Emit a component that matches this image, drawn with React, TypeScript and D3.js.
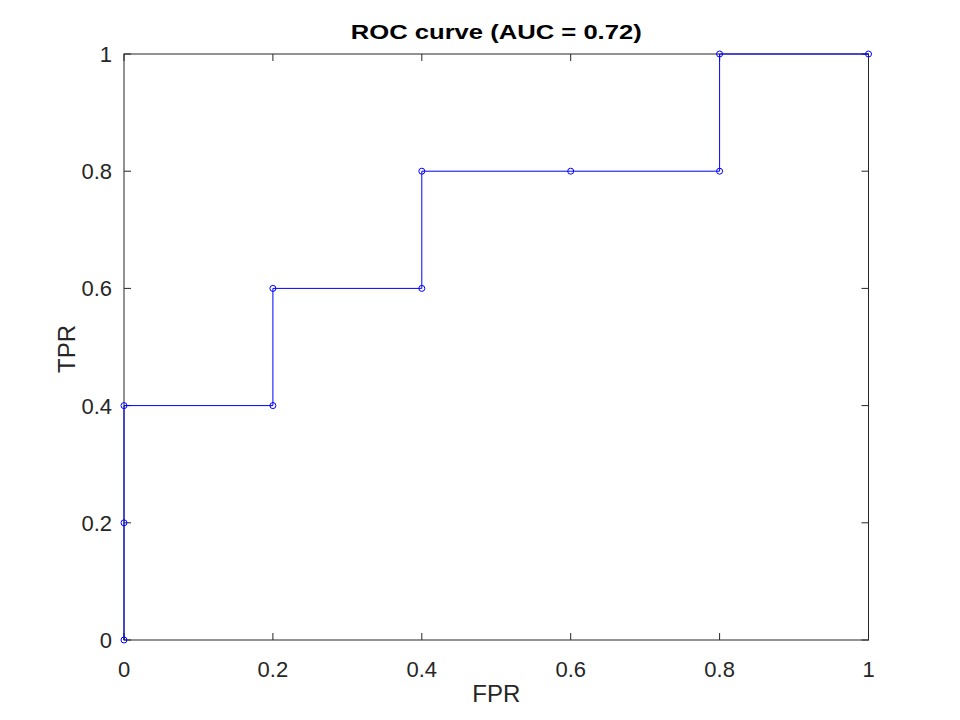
import { useMemo } from 'react';
import * as d3 from 'd3';

const WIDTH = 960;
const HEIGHT = 720;
const MARGIN = { top: 54, right: 91.5, bottom: 80, left: 124 };

const fpr = [0, 0, 0, 0.2, 0.2, 0.4, 0.4, 0.6, 0.8, 0.8, 1];
const tpr = [0, 0.2, 0.4, 0.4, 0.6, 0.6, 0.8, 0.8, 0.8, 1, 1];
const ticks = [0, 0.2, 0.4, 0.6, 0.8, 1];
const auc = 0.72;

const FONT = '"Liberation Sans", Arial, Helvetica, sans-serif';
const TICK_LEN = 7;

export default function App() {
  const boundsWidth = WIDTH - MARGIN.left - MARGIN.right;
  const boundsHeight = HEIGHT - MARGIN.top - MARGIN.bottom;

  const xScale = useMemo(() => d3.scaleLinear().domain([0, 1]).range([0, boundsWidth]), [boundsWidth]);
  const yScale = useMemo(() => d3.scaleLinear().domain([0, 1]).range([boundsHeight, 0]), [boundsHeight]);

  const points = fpr.map((x, i) => [x, tpr[i]] as [number, number]);
  const linePath = d3
    .line<[number, number]>()
    .x((d) => xScale(d[0]))
    .y((d) => yScale(d[1]))(points);

  const fmt = (v: number) => (v === 0 || v === 1 ? String(v) : v.toFixed(1));

  return (
    <svg
      width={WIDTH}
      height={HEIGHT}
      style={{ display: 'block', position: 'absolute', left: 0, top: 0, background: '#fff' }}
      fontFamily={FONT}
    >
      <rect width={WIDTH} height={HEIGHT} fill="#fff" />
      <g transform={`translate(${MARGIN.left}, ${MARGIN.top})`}>
        {/* caixa dos eixos */}
        <rect x={0} y={0} width={boundsWidth} height={boundsHeight} fill="none" stroke="#262626" strokeWidth={1} />

        {/* ticks para dentro, nos quatro lados */}
        {ticks.map((t) => (
          <g key={`x${t}`} stroke="#262626" strokeWidth={1}>
            <line x1={xScale(t)} x2={xScale(t)} y1={boundsHeight} y2={boundsHeight - TICK_LEN} />
            <line x1={xScale(t)} x2={xScale(t)} y1={0} y2={TICK_LEN} />
          </g>
        ))}
        {ticks.map((t) => (
          <g key={`y${t}`} stroke="#262626" strokeWidth={1}>
            <line x1={0} x2={TICK_LEN} y1={yScale(t)} y2={yScale(t)} />
            <line x1={boundsWidth} x2={boundsWidth - TICK_LEN} y1={yScale(t)} y2={yScale(t)} />
          </g>
        ))}

        {/* rótulos dos ticks */}
        {ticks.map((t) => (
          <text
            key={`xl${t}`}
            x={xScale(t)}
            y={boundsHeight + 36.5}
            textAnchor="middle"
            fontSize={22}
            fill="#262626"
          >
            {fmt(t)}
          </text>
        ))}
        {ticks.map((t) => (
          <text
            key={`yl${t}`}
            x={-12}
            y={yScale(t) + 8}
            textAnchor="end"
            fontSize={22}
            fill="#262626"
          >
            {fmt(t)}
          </text>
        ))}

        {/* curva ROC */}
        <path d={linePath ?? ''} fill="none" stroke="#0000ff" strokeWidth={1} />
        {points.map((p, i) => (
          <circle
            key={i}
            cx={xScale(p[0])}
            cy={yScale(p[1])}
            r={3}
            fill="none"
            stroke="#0000ff"
            strokeWidth={1}
          />
        ))}

        {/* rótulos dos eixos */}
        <text x={boundsWidth / 2} y={boundsHeight + 61.5} textAnchor="middle" fontSize={24} fill="#262626">
          FPR
        </text>
        <text
          transform={`translate(${-49}, ${boundsHeight / 2 + 2}) rotate(-90)`}
          textAnchor="middle"
          fontSize={24}
          fill="#262626"
        >
          TPR
        </text>
        <text
          x={boundsWidth / 2}
          y={-15.5}
          textAnchor="middle"
          fontSize={21}
          fontWeight="bold"
          fill="#000"
          textLength={291}
          lengthAdjust="spacingAndGlyphs"
        >
          {`ROC curve (AUC = ${auc.toFixed(2)})`}
        </text>
      </g>
    </svg>
  );
}
